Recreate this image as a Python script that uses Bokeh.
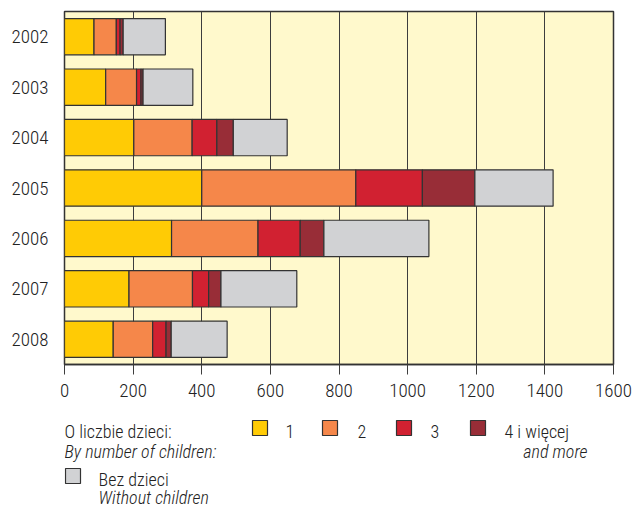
from bokeh.plotting import figure
from bokeh.models import Range1d, FactorRange, FixedTicker, ColumnDataSource
from bokeh.layouts import column
from bokeh.core.properties import value
from bokeh.embed import file_html
from bokeh.resources import INLINE

# ---- data ----
years = ["2002", "2003", "2004", "2005", "2006", "2007", "2008"]
one_child = [86, 120, 202, 400, 312, 188, 142]
two_children = [65, 90, 170, 449, 252, 185, 115]
three_children = [11, 13, 72, 194, 123, 47, 39]
four_more = [9, 6, 48, 153, 69, 36, 15]
no_children = [123, 145, 157, 228, 306, 221, 163]
x_ticks = [0, 200, 400, 600, 800, 1000, 1200, 1400, 1600]

series_keys = ["one", "two", "three", "four", "none"]
colors = ["#FFCB05", "#F5874A", "#D12131", "#982D37", "#D1D2D4"]

FONT = "'Roboto Condensed Light', 'Roboto Condensed', 'Liberation Sans Narrow', 'DejaVu Sans Condensed', sans-serif"
TXT = "#222222"
EDGE = "#333333"

src = ColumnDataSource(dict(year=years, one=one_child, two=two_children,
                            three=three_children, four=four_more, none=no_children))

p = figure(width=633, height=410,
           y_range=FactorRange(*years[::-1]), x_range=Range1d(0, 1600),
           output_backend="svg", toolbar_location=None,
           min_border_left=64, min_border_right=20,
           min_border_top=11, min_border_bottom=46)

p.background_fill_color = "#FFF9CC"
p.border_fill_color = "white"
p.outline_line_color = EDGE
p.outline_line_width = 1.5

p.hbar_stack(series_keys, y="year", height=0.72, color=colors, source=src,
             line_color=EDGE, line_width=1.2)

p.xaxis.ticker = FixedTicker(ticks=x_ticks)
p.xgrid.ticker = FixedTicker(ticks=x_ticks)
p.xgrid.grid_line_color = "#3d3d3d"
p.xgrid.grid_line_width = 1
p.ygrid.grid_line_color = None

p.xaxis.major_tick_out = 10
p.xaxis.major_tick_in = 0
p.xaxis.minor_tick_line_color = None
p.xaxis.axis_line_color = EDGE
p.xaxis.axis_line_width = 1.5
p.xaxis.major_tick_line_color = "#3d3d3d"
p.xaxis.major_label_text_font = FONT
p.xaxis.major_label_text_font_size = "19px"
p.xaxis.major_label_text_color = TXT
p.xaxis.major_label_standoff = 9

p.yaxis.major_tick_line_color = None
p.yaxis.axis_line_color = None
p.yaxis.major_label_text_font = FONT
p.yaxis.major_label_text_font_size = "19px"
p.yaxis.major_label_text_color = TXT
p.yaxis.major_label_standoff = 10

# ---- legend panel (data units = page pixels) ----
lg = figure(width=633, height=98, x_range=Range1d(64, 613), y_range=Range1d(508, 410),
            x_axis_type=None, y_axis_type=None, output_backend="svg",
            toolbar_location=None, min_border_left=64, min_border_right=20,
            min_border_top=0, min_border_bottom=0)
lg.outline_line_color = None
lg.grid.visible = False
lg.background_fill_color = "white"
lg.border_fill_color = "white"

sw_left = [252, 322, 396, 470, 65]
sw_top = [420, 420, 420, 420, 468]
lg.quad(left=sw_left, right=[l + 15 for l in sw_left], top=sw_top,
        bottom=[t + 15 for t in sw_top], fill_color=colors, line_color=EDGE, line_width=1.2)

lg.text(x=[64, 285, 357, 430, 504, 98], y=[431, 431, 431, 431, 431, 479],
        text=["O liczbie dzieci:", "1", "2", "3", "4 i więcej", "Bez dzieci"],
        text_font=value(FONT), text_font_size="18px", text_color=TXT,
        text_baseline="alphabetic", text_align="left")
lg.text(x=[64, 98], y=[451, 497], text=["By number of children:", "Without children"],
        text_font=value(FONT), text_font_size="18px", text_color=TXT,
        text_font_style="italic", text_baseline="alphabetic", text_align="left")
lg.text(x=[587], y=[451], text=["and more"],
        text_font=value(FONT), text_font_size="18px", text_color=TXT,
        text_font_style="italic", text_baseline="alphabetic", text_align="right")

layout = column(p, lg, spacing=0)
open("out.html", "w").write(file_html(layout, INLINE))
